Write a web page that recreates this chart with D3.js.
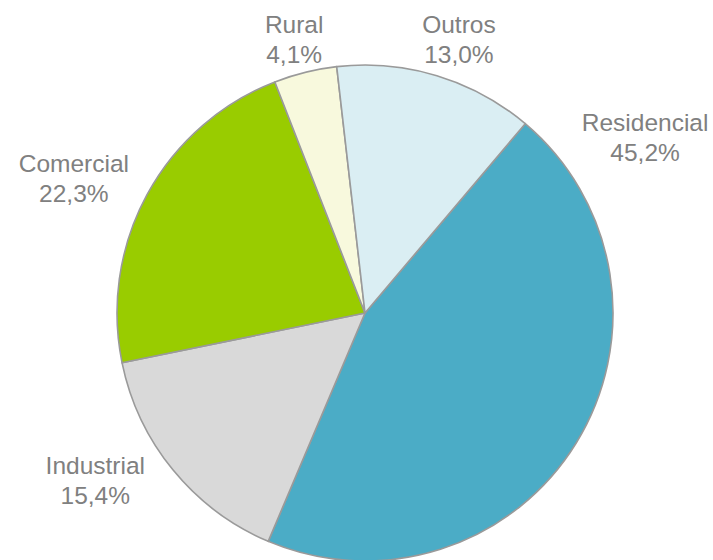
<!DOCTYPE html>
<html>
<head>
<meta charset="utf-8">
<script src="https://cdn.jsdelivr.net/npm/d3@7/dist/d3.min.js"></script>
<style>
  html, body { margin: 0; padding: 0; background: #ffffff; }
  svg { display: block; }
</style>
</head>
<body>
<svg id="chart" width="713" height="560"></svg>
<script>
// ---- data ----
const categories = ["Residencial", "Industrial", "Comercial", "Rural", "Outros"];
const values = [45.2, 15.4, 22.3, 4.1, 13.0];
const valueLabels = ["45,2%", "15,4%", "22,3%", "4,1%", "13,0%"];

// ---- styles / layout ----
const colors = ["#4BACC6", "#D9D9D9", "#99CC00", "#F8F9DD", "#DAEEF3"];
// label placement (polar, degrees clockwise from top, radius in px from centre)
const labelPolar = {
  "Residencial": [57.8, 331],
  "Industrial": [-121.7, 317],
  "Comercial": [-65.1, 321],
  "Rural": [-14.5, 283],
  "Outros": [18.9, 290]
};

const width = 713, height = 560;
const cx = 365, cy = 313, R = 248;
const svg = d3.select("#chart");
const g = svg.append("g").attr("transform", `translate(${cx},${cy})`);

const rad = d => d * Math.PI / 180;
const startDeg = 40.25;
const pie = d3.pie().sort(null).value(d => d.value)
  .startAngle(rad(startDeg)).endAngle(rad(startDeg + 360));
const data = categories.map((c, i) => ({ name: c, value: values[i], label: valueLabels[i], color: colors[i] }));
const arcs = pie(data);
const arc = d3.arc().innerRadius(0).outerRadius(R);

g.selectAll("path.slice").data(arcs).enter().append("path")
  .attr("class", "slice")
  .attr("d", arc)
  .attr("fill", d => d.data.color)
  .attr("stroke", "#9A9A9A")
  .attr("stroke-width", 1.6)
  .attr("stroke-linejoin", "round");

const fontSize = 24.5;
const lbl = g.selectAll("text.lbl").data(arcs).enter().append("text")
  .attr("class", "lbl")
  .attr("text-anchor", "middle")
  .attr("font-family", "'Liberation Sans', Arial, sans-serif")
  .attr("font-size", fontSize)
  .attr("fill", "#808080")
  .each(function(d) {
    const p = labelPolar[d.data.name];
    const a = rad(p[0]);
    const x = Math.sin(a) * p[1];
    const y = -Math.cos(a) * p[1];
    const t = d3.select(this);
    t.append("tspan").attr("x", x).attr("y", y - 6).text(d.data.name);
    t.append("tspan").attr("x", x).attr("y", y + 24).text(d.data.label);
  });
</script>
</body>
</html>
